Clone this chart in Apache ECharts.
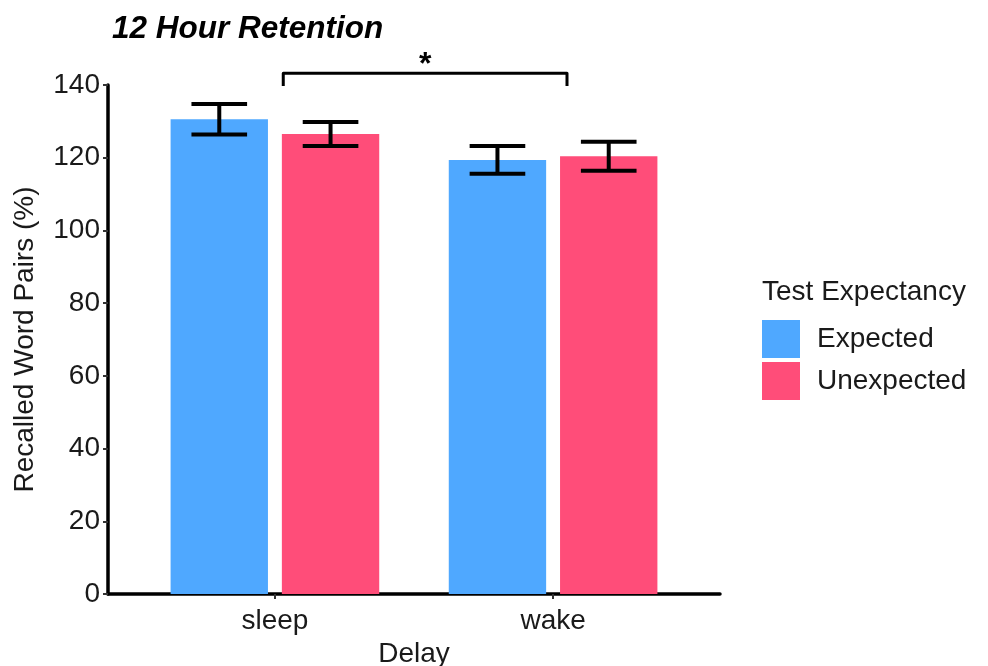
<!DOCTYPE html>
<html>
<head>
<meta charset="utf-8">
<title>12 Hour Retention</title>
<script src="https://cdn.jsdelivr.net/npm/echarts@6/dist/echarts.min.js"></script>
<style>
  html, body { margin: 0; padding: 0; background: #ffffff; }
  #chart { width: 988px; height: 666px; }
</style>
</head>
<body>
<div id="chart"></div>
<script>
// ---- data ----
const delays = ['sleep', 'wake'];
const groups = ['Expected', 'Unexpected'];
const expectedMeans = [130.6, 119.4];
const expectedErrors = [4.2, 3.8];
const unexpectedMeans = [126.5, 120.4];
const unexpectedErrors = [3.3, 4.0];
const yTicks = [0, 20, 40, 60, 80, 100, 120, 140];
// significance bracket: from x, to x, bar height, tip height, label
const bracketFrom = [1.03];
const bracketTo = [2.05];
const bracketLevel = [143.2];
const bracketTip = [139.7];
const bracketLabel = ['*'];

// ---- styling ----
const FONT = '"Liberation Sans", Arial, sans-serif';
const TEXT = '#1a1a1a';
const FS = 28;
const colors = ['#4FA8FF', '#FF4D79'];
const DODGE = 0.2;      // half distance between the two bars of a group
const BAR_W = 0.35;     // bar width in axis units
const CAP_W = 0.2;      // error bar cap width in axis units

function barRenderer(offset, color) {
  return function (params, api) {
    const x = api.value(0) + offset;
    const mean = api.value(1);
    const err = api.value(2);
    const base = api.coord([x - BAR_W / 2, 0]);
    const topRight = api.coord([x + BAR_W / 2, mean]);
    const hi = api.coord([x, mean + err]);
    const lo = api.coord([x, mean - err]);
    const capL = api.coord([x - CAP_W / 2, mean])[0];
    const capR = api.coord([x + CAP_W / 2, mean])[0];
    const line = { stroke: '#000', lineWidth: 4, lineCap: 'butt' };
    return {
      type: 'group',
      children: [
        { type: 'rect',
          shape: { x: base[0], y: topRight[1], width: topRight[0] - base[0], height: base[1] - topRight[1] },
          style: { fill: color } },
        { type: 'line', shape: { x1: hi[0], y1: hi[1], x2: lo[0], y2: lo[1] }, style: line },
        { type: 'line', shape: { x1: capL, y1: hi[1], x2: capR, y2: hi[1] }, style: line },
        { type: 'line', shape: { x1: capL, y1: lo[1], x2: capR, y2: lo[1] }, style: line }
      ]
    };
  };
}

function bracketRenderer(params, api) {
  const x1 = api.value(0), x2 = api.value(1), lvl = api.value(2), tip = api.value(3);
  const a = api.coord([x1, tip]);
  const b = api.coord([x1, lvl]);
  const c = api.coord([x2, lvl]);
  const d = api.coord([x2, tip]);
  return {
    type: 'group',
    children: [
      { type: 'polyline',
        shape: { points: [a, b, c, d] },
        style: { stroke: '#000', lineWidth: 3, fill: null, lineJoin: 'round' } },
      { type: 'text',
        style: {
          text: bracketLabel[params.dataIndex],
          x: (b[0] + c[0]) / 2, y: b[1] + 8,
          align: 'center', verticalAlign: 'bottom',
          font: 'bold 32px ' + FONT, fill: '#000'
        } }
    ]
  };
}

const chart = echarts.init(document.getElementById('chart'), null, { renderer: 'canvas' });

chart.setOption({
  backgroundColor: '#ffffff',
  animation: false,
  title: [
    { text: '12 Hour Retention', left: 112, top: 13, padding: 0,
      textStyle: { fontFamily: FONT, fontSize: 31.5, fontWeight: 'bold', fontStyle: 'italic', color: '#000' } },
    { text: 'Test Expectancy', left: 762, top: 278, padding: 0,
      textStyle: { fontFamily: FONT, fontSize: FS, fontWeight: 'normal', color: TEXT } }
  ],
  legend: {
    data: groups,
    orient: 'vertical',
    left: 762, top: 320, padding: 0,
    icon: 'rect', itemWidth: 38, itemHeight: 38, itemGap: 4,
    textStyle: { fontFamily: FONT, fontSize: FS, color: TEXT, padding: [0, 0, 0, 12] },
    selectedMode: false
  },
  grid: { left: 108, right: 268, top: 85, bottom: 72, containLabel: false, outerBoundsMode: 'none' },
  xAxis: {
    type: 'value', min: 0.4, max: 2.6,
    name: 'Delay', nameLocation: 'middle', nameGap: 44,
    nameTextStyle: { fontFamily: FONT, fontSize: FS, color: TEXT },
    axisLine: { show: true, onZero: false, lineStyle: { color: '#000', width: 3.5 } },
    axisTick: { show: true, length: 5, customValues: [1, 2], lineStyle: { color: '#333', width: 2 } },
    axisLabel: { customValues: [1, 2], margin: 13, formatter: v => delays[Math.round(v) - 1],
      fontFamily: FONT, fontSize: FS, color: TEXT },
    splitLine: { show: false }
  },
  yAxis: {
    type: 'value', min: yTicks[0], max: yTicks[yTicks.length - 1], interval: yTicks[1] - yTicks[0],
    name: 'Recalled Word Pairs (%)', nameLocation: 'middle', nameGap: 69,
    nameTextStyle: { fontFamily: FONT, fontSize: FS, color: TEXT },
    axisLine: { show: true, onZero: false, lineStyle: { color: '#000', width: 3.5 } },
    axisTick: { show: true, length: 5, lineStyle: { color: '#333', width: 2 } },
    axisLabel: { margin: 8, fontFamily: FONT, fontSize: FS, color: TEXT },
    splitLine: { show: false }
  },
  series: [
    { name: groups[0], type: 'custom', itemStyle: { color: colors[0] },
      renderItem: barRenderer(-DODGE, colors[0]), encode: { x: 0, y: 1 },
      data: delays.map((d, i) => [i + 1, expectedMeans[i], expectedErrors[i]]) },
    { name: groups[1], type: 'custom', itemStyle: { color: colors[1] },
      renderItem: barRenderer(DODGE, colors[1]), encode: { x: 0, y: 1 },
      data: delays.map((d, i) => [i + 1, unexpectedMeans[i], unexpectedErrors[i]]) },
    { name: 'bracket', type: 'custom', renderItem: bracketRenderer, encode: { x: [0, 1], y: [2, 3] },
      clip: false, silent: true,
      data: bracketFrom.map((f, i) => [f, bracketTo[i], bracketLevel[i], bracketTip[i]]) }
  ]
});
</script>
</body>
</html>
